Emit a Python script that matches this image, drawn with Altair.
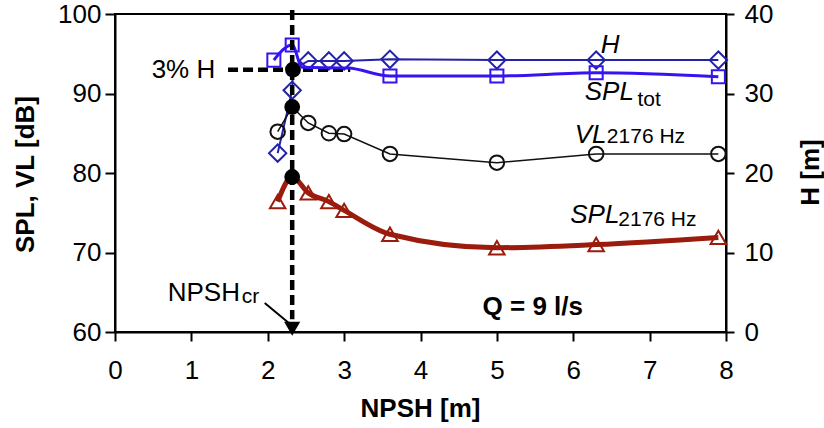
import altair as alt
import pandas as pd

# ---- measured series at Q = 9 l/s -------------------------------------------
# pump head H [m]
npsh_h = [2.13, 2.32, 2.33, 2.53, 2.80, 3.00, 3.60, 5.00, 6.30, 7.90]
head_m = [22.5, 30.4, 33.0, 34.1, 34.1, 34.1, 34.3, 34.2, 34.2, 34.2]
head_kind = ["open", "open", "crit", "open", "open", "open", "open", "open", "open", "open"]

# total sound pressure level SPL_tot [dB] ("curve" = trend point without marker)
npsh_tot = [2.08, 2.32, 2.45, 3.05, 3.60, 5.00, 6.30, 7.90]
spl_tot = [94.2, 96.1, 93.3, 93.2, 92.2, 92.2, 92.6, 92.1]
tot_kind = ["open", "open", "curve", "curve", "open", "open", "open", "open"]

# vibration level at 2176 Hz [dB]
npsh_vl = [2.13, 2.32, 2.53, 2.80, 3.00, 3.60, 5.00, 6.30, 7.90]
vl_2176 = [85.2, 88.3, 86.3, 85.0, 84.9, 82.4, 81.3, 82.4, 82.4]
vl_kind = ["open", "crit", "open", "open", "open", "open", "open", "open", "open"]

# sound pressure level at 2176 Hz [dB]
npsh_spl = [2.13, 2.32, 2.53, 2.80, 3.00, 3.60, 5.00, 6.30, 7.90]
spl_2176 = [76.4, 79.5, 77.5, 76.4, 75.3, 72.3, 70.6, 71.0, 71.9]
spl_kind = ["open", "crit", "open", "open", "open", "open", "open", "open", "open"]

# critical NPSH and the 3 % head-drop level
npsh_cr = 2.32
h_3pct = 33.0

FONT = "Liberation Sans"
H_COLOR = "#2323a8"
TOT_COLOR = "#3414f0"
VL_COLOR = "#111111"
SPL_COLOR = "#9b1c0c"

# ---- axes ------------------------------------------------------------------
common = dict(
    grid=False, domainColor="black", domainWidth=2, tickColor="black", tickWidth=2,
    labelColor="black", labelFont=FONT, labelFontSize=26, titleColor="black",
    titleFont=FONT, titleFontSize=26, titleFontWeight="bold",
)
x_axis = alt.Axis(values=list(range(0, 9)), title="NPSH [m]", tickSize=9, labelPadding=16,
                  labelFlush=False, titleX=305, titleY=76, titleBaseline="middle", **common)
left_axis = alt.Axis(values=[60, 70, 80, 90, 100], title="SPL, VL [dB]", tickSize=10,
                     labelPadding=4, titleAngle=270, titleX=-90, titleY=160,
                     titleAlign="center", titleBaseline="middle", **common)
right_axis = alt.Axis(values=[0, 10, 20, 30, 40], title="H [m]", orient="right", tickSize=8,
                      labelPadding=10, titleAngle=270, titleX=84, titleY=158,
                      titleAlign="center", titleBaseline="middle", **common)

X = alt.X("npsh:Q", scale=alt.Scale(domain=[0, 8], nice=False, zero=False), axis=x_axis)
Y_DB = alt.Y("db:Q", scale=alt.Scale(domain=[60, 100], nice=False, zero=False), axis=left_axis)
Y_H = alt.Y("h:Q", scale=alt.Scale(domain=[0, 40], nice=False, zero=True), axis=right_axis)

# ---- data frames -----------------------------------------------------------
df_h = pd.DataFrame({"npsh": npsh_h, "h": head_m, "kind": head_kind})
df_tot = pd.DataFrame({"npsh": npsh_tot, "db": spl_tot, "kind": tot_kind})
df_vl = pd.DataFrame({"npsh": npsh_vl, "db": vl_2176, "kind": vl_kind})
df_spl = pd.DataFrame({"npsh": npsh_spl, "db": spl_2176, "kind": spl_kind})


def series(df, color, width, shape, size, interp="linear"):
    line = alt.Chart(df).mark_line(color=color, strokeWidth=width, interpolate=interp).encode(
        x=X, y=Y_DB)
    pts = alt.Chart(df).transform_filter(alt.datum.kind == "open").mark_point(
        shape=shape, filled=False, color=color, strokeWidth=2, size=size, opacity=1
    ).encode(x=X, y=Y_DB)
    return line, pts


tot_line, tot_pts = series(df_tot, TOT_COLOR, 3, "square", 170, "monotone")
vl_line, vl_pts = series(df_vl, VL_COLOR, 1.5, "circle", 210)
spl_line, spl_pts = series(df_spl, SPL_COLOR, 5, "triangle-up", 240, "monotone")

crit_db = pd.concat([df_vl, df_spl])
crit_db_pts = alt.Chart(crit_db).transform_filter(alt.datum.kind == "crit").mark_point(
    shape="circle", filled=True, color="black", size=250, opacity=1
).encode(x=X, y=Y_DB)

# vertical dashed marker at NPSH_cr with arrowhead on the abscissa
df_vert = pd.DataFrame({"npsh": [npsh_cr], "db": [100.5], "db2": [61.6]})
vert = alt.Chart(df_vert).mark_rule(color="black", strokeWidth=4.5, strokeDash=[10, 5]).encode(
    x=X, y=Y_DB, y2="db2:Q")
df_head = pd.DataFrame({"npsh": [npsh_cr], "db": [60.4]})
arrow_head = alt.Chart(df_head).mark_point(
    shape="triangle-down", filled=True, color="black", size=260, opacity=1
).encode(x=X, y=Y_DB)
df_shaft = pd.DataFrame({"npsh": [1.96], "npsh2": [2.28], "db": [63.65], "db2": [61.1]})
shaft = alt.Chart(df_shaft).mark_rule(color="black", strokeWidth=2).encode(
    x=X, x2="npsh2:Q", y=Y_DB, y2="db2:Q")

# ---- annotations -----------------------------------------------------------
df_ital = pd.DataFrame({"npsh": [6.36, 6.15, 6.02, 5.96],
                        "db": [96.1, 90.2, 84.8, 74.7],
                        "text": ["H", "SPL", "VL", "SPL"]})
ital = alt.Chart(df_ital).mark_text(
    font=FONT, fontSize=26, fontStyle="italic", align="left", baseline="middle", color="black"
).encode(x=X, y=Y_DB, text="text:N")

df_sub = pd.DataFrame({"npsh": [6.84, 6.44, 6.59, 1.66],
                       "db": [89.2, 84.5, 74.1, 64.4],
                       "text": ["tot", "2176 Hz", "2176 Hz", "cr"]})
sub = alt.Chart(df_sub).mark_text(
    font=FONT, fontSize=21, align="left", baseline="middle", color="black"
).encode(x=X, y=Y_DB, text="text:N")

df_plain = pd.DataFrame({"npsh": [0.48, 0.69], "db": [92.96, 64.9], "text": ["3% H", "NPSH"]})
plain = alt.Chart(df_plain).mark_text(
    font=FONT, fontSize=26, align="left", baseline="middle", color="black"
).encode(x=X, y=Y_DB, text="text:N")

df_bold = pd.DataFrame({"npsh": [5.47], "db": [63.1], "text": ["Q = 9 l/s"]})
bold = alt.Chart(df_bold).mark_text(
    font=FONT, fontSize=26, fontWeight="bold", align="center", baseline="middle", color="black"
).encode(x=X, y=Y_DB, text="text:N")

left = alt.layer(tot_line, vl_line, spl_line, tot_pts, vl_pts, spl_pts,
                 vert, shaft, arrow_head, crit_db_pts, ital, sub, plain, bold)

# ---- head (right axis) ------------------------------------------------------
h_line = alt.Chart(df_h).mark_line(color=H_COLOR, strokeWidth=2).encode(x=X, y=Y_H)
h_pts = alt.Chart(df_h).transform_filter(alt.datum.kind == "open").mark_point(
    shape="diamond", filled=False, color=H_COLOR, strokeWidth=2, size=300, opacity=1
).encode(x=X, y=Y_H)
df_hz = pd.DataFrame({"npsh": [1.48], "npsh2": [3.08], "h": [h_3pct]})
h_dash = alt.Chart(df_hz).mark_rule(color="black", strokeWidth=4.5, strokeDash=[10, 5]).encode(
    x=X, x2="npsh2:Q", y=Y_H)
h_crit = alt.Chart(df_h).transform_filter(alt.datum.kind == "crit").mark_point(
    shape="circle", filled=True, color="black", size=250, opacity=1
).encode(x=X, y=Y_H)

right = alt.layer(h_line, h_pts, h_dash, h_crit)

chart = (
    alt.layer(right, left)
    .resolve_scale(y="independent")
    .properties(
        width=611, height=318,
        autosize=alt.AutoSizeParams(type="none"),
        padding={"left": 115, "top": 14, "right": 98, "bottom": 96},
        background="white",
    )
    .configure_view(stroke="black", strokeWidth=2)
)

chart.save("out.html", embed_options={"renderer": "svg", "actions": False})
